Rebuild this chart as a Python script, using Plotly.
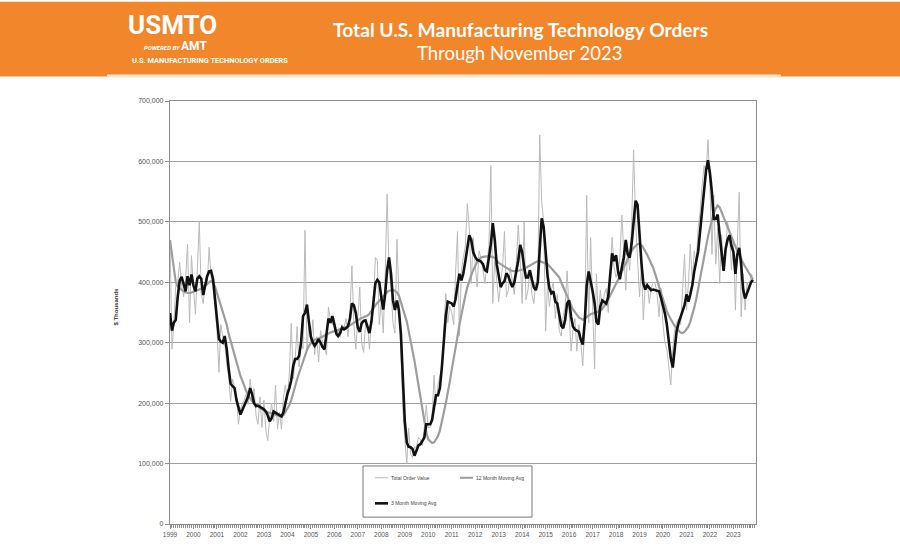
import plotly.graph_objects as go
import pandas as pd

# ---------------- data (values in $ millions; axis labels in $ thousands) ----------------
START = "1999-01-01"

total_order_value = [
    470, 289, 330, 395, 400, 433, 395, 376, 405, 463, 333, 444,   # 1999
    390, 347, 420, 501, 380, 365, 400, 395, 458, 410, 395, 360,   # 2000
    320, 251, 330, 310, 300, 265, 245, 203, 240, 225, 210, 165,   # 2001
    190, 200, 205, 215, 198, 240, 205, 224, 180, 165, 210, 160,   # 2002
    205, 154, 138, 175, 200, 170, 230, 157, 185, 157, 210, 230,   # 2003
    205, 250, 332, 240, 270, 327, 260, 300, 290, 486, 289, 330,   # 2004
    300, 338, 280, 310, 268, 320, 300, 290, 280, 359, 338, 330,   # 2005
    340, 311, 320, 310, 330, 325, 340, 310, 350, 427, 330, 289,   # 2006
    340, 392, 300, 284, 330, 330, 289, 340, 360, 441, 436, 330,   # 2007
    370, 316, 410, 546, 419, 392, 333, 316, 471, 387, 300, 192,   # 2008
    140, 100, 159, 116, 110, 127, 127, 143, 140, 130, 160, 197,   # 2009
    159, 160, 175, 246, 197, 230, 246, 257, 322, 381, 333, 360,   # 2010
    350, 330, 414, 484, 311, 420, 441, 460, 530, 490, 398, 474,   # 2011
    430, 392, 452, 440, 420, 398, 430, 460, 593, 365, 440, 400,   # 2012
    368, 400, 425, 484, 376, 387, 425, 400, 380, 430, 495, 440,   # 2013
    365, 500, 371, 387, 420, 380, 365, 400, 400, 644, 533, 500,   # 2014
    319, 400, 360, 387, 400, 340, 380, 320, 311, 343, 360, 419,   # 2015
    340, 286, 322, 340, 286, 330, 300, 262, 330, 544, 333, 474,   # 2016
    360, 257, 414, 343, 387, 354, 380, 390, 350, 419, 474, 425,   # 2017
    408, 420, 440, 511, 452, 387, 452, 420, 500, 619, 500, 440,   # 2018
    376, 430, 338, 398, 400, 365, 390, 400, 398, 380, 343, 390,   # 2019
    330, 300, 289, 260, 230, 289, 322, 333, 340, 330, 380, 446,   # 2020
    354, 400, 463, 400, 452, 430, 490, 517, 560, 593, 580, 636,   # 2021
    560, 446, 544, 430, 490, 398, 479, 420, 452, 500, 480, 420,   # 2022
    470, 354, 460, 549, 343, 414, 354, 400, 387, 414, 410,        # 2023 (Jan-Nov)
]

moving_avg_12 = [
    470, 445, 420, 400, 393, 390, 388, 385, 383, 382, 382, 383,   # 1999
    384, 385, 386, 388, 390, 392, 394, 397, 400, 402, 400, 393,   # 2000
    382, 372, 362, 352, 342, 330, 315, 303, 290, 278, 266, 255,   # 2001
    245, 237, 228, 220, 213, 207, 203, 200, 197, 194, 192, 190,   # 2002
    188, 186, 185, 184, 183, 182, 180, 179, 178, 178, 180, 185,   # 2003
    190, 197, 205, 215, 228, 240, 250, 260, 270, 280, 288, 295,   # 2004
    300, 303, 305, 306, 307, 308, 310, 312, 314, 316, 317, 318,   # 2005
    319, 320, 321, 322, 323, 325, 326, 327, 329, 331, 334, 336,   # 2006
    338, 340, 341, 342, 343, 345, 348, 352, 357, 362, 366, 370,   # 2007
    374, 378, 381, 384, 386, 387, 387, 386, 383, 378, 368, 355,   # 2008
    345, 335, 320, 305, 285, 270, 250, 230, 210, 190, 170, 152,   # 2009
    140, 136, 134, 135, 140, 145, 155, 168, 185, 200, 215, 235,   # 2010
    255, 272, 290, 310, 330, 348, 362, 378, 392, 403, 412, 420,   # 2011
    428, 434, 438, 441, 442, 443, 443, 443, 443, 442, 440, 436,   # 2012
    432, 430, 428, 426, 424, 422, 420, 419, 418, 418, 419, 420,   # 2013
    420, 422, 424, 426, 428, 430, 432, 434, 435, 435, 434, 433,   # 2014
    432, 430, 427, 423, 420, 416, 412, 408, 400, 392, 385, 377,   # 2015
    370, 362, 355, 350, 346, 342, 340, 338, 340, 343, 345, 347,   # 2016
    348, 349, 350, 351, 353, 356, 360, 365, 372, 378, 385, 392,   # 2017
    398, 404, 410, 418, 425, 433, 440, 446, 452, 457, 461, 463,   # 2018
    463, 461, 457, 452, 445, 438, 432, 424, 414, 404, 393, 380,   # 2019
    370, 362, 352, 345, 338, 333, 328, 323, 320, 317, 316, 318,   # 2020
    322, 327, 335, 345, 358, 372, 390, 408, 425, 443, 460, 476,   # 2021
    490, 503, 515, 522, 527, 524, 516, 508, 500, 490, 482, 474,   # 2022
    465, 458, 452, 446, 438, 432, 426, 420, 415, 410, 405,        # 2023
]

moving_avg_3 = [
    349, 320, 333, 338, 376, 403, 409, 398, 385, 410, 395, 413,   # 1999
    395, 385, 406, 410, 406, 379, 393, 410, 418, 419, 405, 376,   # 2000
    344, 306, 302, 300, 311, 290, 258, 232, 228, 225, 205, 192,   # 2001
    181, 189, 197, 205, 211, 225, 215, 200, 195, 196, 194, 192,   # 2002
    190, 186, 180, 170, 175, 186, 184, 181, 180, 178, 185, 200,   # 2003
    215, 225, 238, 262, 273, 273, 278, 300, 344, 349, 363, 335,   # 2004
    310, 300, 295, 300, 306, 300, 293, 289, 315, 340, 333, 344,   # 2005
    330, 315, 311, 316, 325, 322, 324, 327, 340, 365, 362, 349,   # 2006
    325, 318, 332, 336, 337, 328, 316, 335, 362, 398, 404, 400,   # 2007
    376, 355, 380, 420, 441, 414, 370, 354, 370, 354, 315, 240,   # 2008
    170, 135, 128, 127, 124, 113, 122, 130, 132, 137, 143, 165,   # 2009
    165, 165, 172, 190, 213, 213, 225, 260, 300, 345, 368, 367,   # 2010
    365, 360, 372, 395, 414, 403, 415, 435, 462, 478, 470, 450,   # 2011
    442, 437, 436, 434, 430, 420, 418, 440, 463, 498, 470, 430,   # 2012
    410, 392, 398, 402, 415, 410, 400, 392, 400, 415, 436, 462,   # 2013
    450, 425, 408, 408, 420, 405, 392, 387, 400, 455, 506, 492,   # 2014
    450, 410, 390, 382, 385, 368, 365, 345, 328, 324, 338, 365,   # 2015
    370, 343, 327, 322, 320, 318, 305, 297, 335, 395, 418, 398,   # 2016
    385, 365, 335, 330, 360, 370, 368, 365, 376, 418, 448, 435,   # 2017
    445, 418, 405, 425, 441, 470, 446, 441, 465, 500, 535, 528,   # 2018
    470, 430, 398, 388, 395, 390, 387, 388, 387, 387, 385, 374,   # 2019
    362, 348, 330, 300, 275, 259, 285, 320, 333, 343, 352, 362,   # 2020
    380, 368, 380, 395, 418, 435, 451, 485, 520, 545, 585, 602,   # 2021
    580, 548, 505, 505, 512, 478, 445, 419, 455, 470, 478, 460,   # 2022
    450, 414, 445, 457, 430, 388, 373, 382, 390, 400, 404,        # 2023
]

SERIES_NAMES = ["Total Order Value", "12 Month Moving Avg", "3 Month Moving Avg"]
Y_TICKS = [0, 100, 200, 300, 400, 500, 600, 700]
Y_TICK_LABELS = ["0", "100,000", "200,000", "300,000", "400,000", "500,000", "600,000", "700,000"]
YEAR_LABELS = [str(y) for y in range(1999, 2024)]

TITLE_1 = "Total U.S. Manufacturing Technology Orders"
TITLE_2 = "Through November 2023"

# ---------------- layout helpers (pixel -> paper) ----------------
W, H = 900, 550
PL, PR, PT, PB = 170, 756, 101, 531


def px(x):
    return (x - PL) / (PR - PL)


def py(y):
    return (PB - y) / (PB - PT)


months_raw = pd.date_range(START, periods=len(total_order_value), freq="MS")
months_12 = pd.date_range(START, periods=len(moving_avg_12), freq="MS")
months_3 = pd.date_range(START, periods=len(moving_avg_3), freq="MS")
year_ticks = pd.date_range(START, periods=len(YEAR_LABELS), freq="YS")

fig = go.Figure()
fig.add_trace(go.Scatter(x=months_raw, y=total_order_value, mode="lines", name=SERIES_NAMES[0],
                         line=dict(color="#bababa", width=1)))
fig.add_trace(go.Scatter(x=months_12, y=moving_avg_12, mode="lines", name=SERIES_NAMES[1],
                         line=dict(color="#9d9d9d", width=2.2)))
fig.add_trace(go.Scatter(x=months_3, y=moving_avg_3, mode="lines", name=SERIES_NAMES[2],
                         line=dict(color="#111111", width=2.6)))

AX = "#8c8c8c"
fig.update_layout(
    width=W, height=H,
    margin=dict(l=PL, r=W - PR, t=PT, b=H - PB, pad=0),
    paper_bgcolor="white", plot_bgcolor="white",
    showlegend=False,
    font=dict(family="Liberation Sans, Arial, sans-serif", color="#333"),
    xaxis=dict(
        type="date", range=["1999-01-01", "2023-12-18"],
        tickmode="array", tickvals=year_ticks, ticktext=YEAR_LABELS,
        tickfont=dict(size=6.5, color="#555"),
        ticks="outside", ticklen=4, tickcolor=AX,
        minor=dict(ticks="outside", ticklen=3, tickcolor=AX, dtick="M1", tick0=START, showgrid=False),
        showgrid=False, showline=True, linecolor=AX, linewidth=1.2, mirror=True,
        zeroline=False,
    ),
    yaxis=dict(
        range=[0, 700], tickmode="array", tickvals=Y_TICKS, ticktext=Y_TICK_LABELS,
        tickfont=dict(size=7, color="#555"),
        ticks="outside", ticklen=4, tickcolor=AX,
        showgrid=True, gridcolor="#a0a0a0", gridwidth=1,
        showline=True, linecolor=AX, linewidth=1.2, mirror=True,
        zeroline=False,
    ),
)

shapes = []
annotations = []

# orange header band
shapes.append(dict(type="rect", xref="paper", yref="paper", x0=px(0), x1=px(W), y0=py(76), y1=py(0),
                   fillcolor="#F2862B", line=dict(width=0), layer="above"))
shapes.append(dict(type="rect", xref="paper", yref="paper", x0=px(107), x1=px(781), y0=py(77), y1=py(74),
                   fillcolor="#FBE6D2", line=dict(width=0), layer="above"))

# logo texts
annotations.append(dict(text="<b>USMTO</b>", x=px(172), y=py(24), xref="paper", yref="paper",
                        showarrow=False, xanchor="center", yanchor="middle",
                        font=dict(family="Roboto, sans-serif", size=26, color="white")))
annotations.append(dict(text="<i><b><span style='font-size:6px'>POWERED BY </span></b></i><b>AMT</b>",
                        x=px(175), y=py(45), xref="paper", yref="paper",
                        showarrow=False, xanchor="center", yanchor="middle",
                        font=dict(family="Roboto, sans-serif", size=12, color="white")))
annotations.append(dict(text="<b>U.S. MANUFACTURING TECHNOLOGY ORDERS</b>",
                        x=px(130), y=py(60), xref="paper", yref="paper",
                        showarrow=False, xanchor="left", yanchor="middle",
                        font=dict(family="Roboto, sans-serif", size=7.4, color="white")))

# titles
annotations.append(dict(text="<b>" + TITLE_1 + "</b>", x=px(520), y=py(28), xref="paper", yref="paper",
                        showarrow=False, xanchor="center", yanchor="middle",
                        font=dict(family="Lato, sans-serif", size=19.2, color="white")))
annotations.append(dict(text=TITLE_2, x=px(519), y=py(52), xref="paper", yref="paper",
                        showarrow=False, xanchor="center", yanchor="middle",
                        font=dict(family="Lato, sans-serif", size=18.5, color="white")))

# y-axis title
annotations.append(dict(text="<b>$ Thousands</b>", x=px(116), y=py(310), xref="paper", yref="paper",
                        showarrow=False, xanchor="center", yanchor="middle", textangle=-90,
                        font=dict(size=6, color="#333")))

# legend box (manual, to match two-column layout)
shapes.append(dict(type="rect", xref="paper", yref="paper", x0=px(363), x1=px(532), y0=py(524), y1=py(472),
                   fillcolor="white", line=dict(color="#777", width=1), layer="above"))
legend_items = [
    (SERIES_NAMES[0], 375, 388, 484, "#bababa", 1),
    (SERIES_NAMES[1], 460, 473, 484, "#9d9d9d", 2),
    (SERIES_NAMES[2], 375, 388, 510, "#111111", 2.6),
]
for name, xa, xb, yy, col, wid in legend_items:
    shapes.append(dict(type="line", xref="paper", yref="paper", x0=px(xa), x1=px(xb), y0=py(yy), y1=py(yy),
                       line=dict(color=col, width=wid), layer="above"))
    annotations.append(dict(text=name, x=px(xb + 1), y=py(yy), xref="paper", yref="paper",
                            showarrow=False, xanchor="left", yanchor="middle",
                            font=dict(size=5, color="#444")))

fig.update_layout(shapes=shapes, annotations=annotations)
fig.write_html("out.html")
